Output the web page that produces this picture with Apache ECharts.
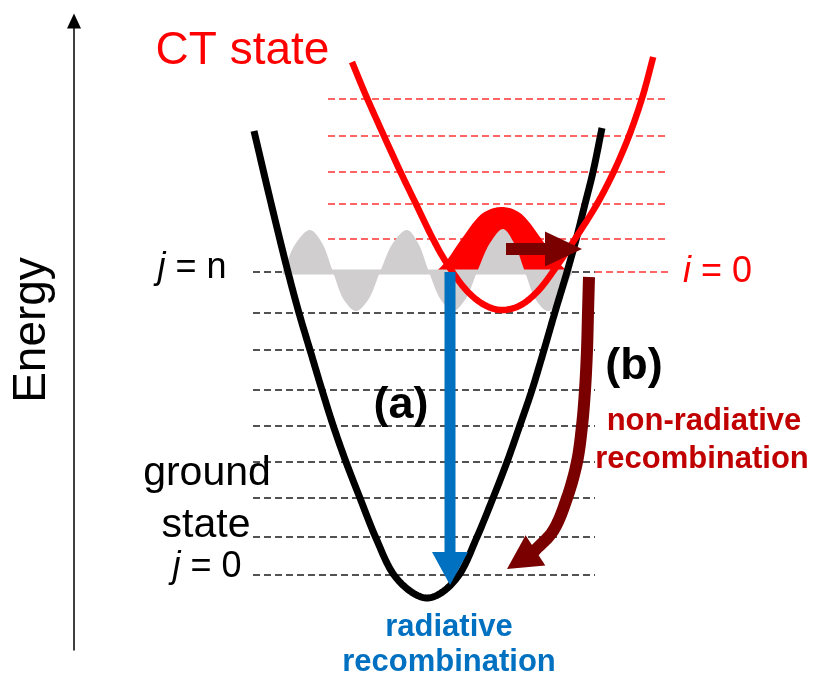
<!DOCTYPE html>
<html>
<head>
<meta charset="utf-8">
<script src="https://cdn.jsdelivr.net/npm/echarts@6/dist/echarts.min.js"></script>
<style>
  html, body { margin: 0; padding: 0; background: #ffffff; }
  #chart { width: 815px; height: 679px; }
</style>
</head>
<body>
<div id="chart"></div>
<script>
// Configuration coordinate q (horizontal) and energy E (vertical), arbitrary units.

// Vibrational levels of the ground state, j = 0 ... j = n
const groundLevels = [75, 113, 152, 188, 224, 260, 300, 337, 378];
const groundLevelSpan = [179, 521];

// Vibrational levels of the CT state above i = 0
const ctLevels = [411, 446, 478, 514, 551];
const ctLevelSpan = [254, 594];
const ctZeroLevel = 378;
const ctZeroSpan = [521, 594];

// Potential energy curves
const groundPotential = [
  [180, 519], [197, 447], [214, 378], [225, 337], [236, 300], [248, 260],
  [259, 225], [272, 188], [286, 152], [301.5, 113], [320, 75], [339, 57],
  [353, 52], [367, 57], [385, 75], [403, 113], [419, 152], [433, 188],
  [446, 225], [458, 260], [470, 300], [481, 338], [493, 378], [502.5, 412],
  [511, 446], [519, 478], [528, 522]
];
const ctPotential = [
  [278, 588], [293, 552], [310, 514], [326.5, 478], [342, 446], [359, 411],
  [372, 388], [394, 358], [412.5, 344], [428, 340], [445, 344], [463, 358],
  [485, 387], [501, 411], [523, 446], [539.6, 478], [555, 514], [568.7, 554],
  [579.2, 593]
];

// Vibrational wavefunctions at the crossing energy
const waveBaseline = 378;
const groundWave = [
  [209, 378], [222, 407], [236, 420], [248, 407], [259, 378], [270, 350],
  [282, 339], [294, 350], [306, 378], [319, 407], [333, 420], [344, 407],
  [355, 378], [367, 350], [379, 339], [391, 350], [403, 378], [416, 407],
  [429, 421], [440, 407], [451, 378], [462, 350], [474, 339], [486, 350],
  [498, 378]
];
const ctWave = [
  [363, 379], [373, 390], [389, 413], [409, 437], [428, 443], [446, 437],
  [466, 413], [482, 390], [493, 379]
];

// Transitions
const radiativeArrow = [[376, 378], [376, 65]];
const crossingArrow = [[432, 401], [508, 401]];
const nonRadiativeArrow = [
  [515, 373], [514, 337], [513, 300], [511, 260], [508, 224], [503, 188],
  [493, 152], [479, 119], [462, 100], [433, 81]
];

// Text shown on the diagram
const labelTexts = [
  'CT state', '{it|j}{rm| = n}', '{it|i}{rm| = 0}', '(a)', '(b)',
  'non-radiative', 'recombination', 'ground', 'state', '{it|j}{rm| = 0}',
  'radiative', 'recombination', 'Energy'
];

const FONT = '"Liberation Sans", Arial, Helvetica, sans-serif';
const BLACK = '#000000';
const RED = '#ff0000';
const GREY = '#d0cecf';
const BLUE = '#0070c0';
const MAROON = '#7a0000';
const DARK_RED = '#c00000';

// Centripetal Catmull-Rom through pixel points, for smooth strokes and fills
function spline(pts, steps) {
  const n = pts.length;
  if (n < 3) return pts.slice();
  const out = [];
  const knot = (a, b) => Math.max(Math.sqrt(Math.hypot(b[0] - a[0], b[1] - a[1])), 1e-4);
  const mix = (a, b, ta, tb, t) => {
    const w = (t - ta) / (tb - ta);
    return [a[0] + (b[0] - a[0]) * w, a[1] + (b[1] - a[1]) * w];
  };
  for (let i = 0; i < n - 1; i++) {
    const p1 = pts[i], p2 = pts[i + 1];
    const p0 = i > 0 ? pts[i - 1] : [2 * p1[0] - p2[0], 2 * p1[1] - p2[1]];
    const p3 = i < n - 2 ? pts[i + 2] : [2 * p2[0] - p1[0], 2 * p2[1] - p1[1]];
    const t0 = 0, t1 = t0 + knot(p0, p1), t2 = t1 + knot(p1, p2), t3 = t2 + knot(p2, p3);
    for (let s = 0; s < steps; s++) {
      const t = t1 + (t2 - t1) * s / steps;
      const a1 = mix(p0, p1, t0, t1, t), a2 = mix(p1, p2, t1, t2, t), a3 = mix(p2, p3, t2, t3, t);
      const b1 = mix(a1, a2, t0, t2, t), b2 = mix(a2, a3, t1, t3, t);
      out.push(mix(b1, b2, t1, t2, t));
    }
  }
  out.push(pts[n - 1]);
  return out;
}

// Level lines: [qStart, qEnd, E, kind]
const levelData = [];
ctLevels.forEach(e => levelData.push([ctLevelSpan[0], ctLevelSpan[1], e, 'ct']));
levelData.push([ctZeroSpan[0], ctZeroSpan[1], ctZeroLevel, 'ct']);
groundLevels.forEach(e => levelData.push([groundLevelSpan[0], groundLevelSpan[1], e, 'ground']));

// Arrow drawing settings
const arrowDefs = [
  { path: radiativeArrow, color: BLUE, shaft: 11, headLen: 33, headW: 36 },
  { path: crossingArrow, color: MAROON, shaft: 12, headLen: 37, headW: 35 },
  { path: nonRadiativeArrow, color: MAROON, shaft: 12, headLen: 34, headW: 36 }
];

// Label anchors (q, E) and styles
const labelDefs = [
  { at: [168.5, 599], size: 46, color: RED },
  { at: [118, 382], size: 36, color: BLACK },
  { at: [643.5, 378], size: 36, color: RED },
  { at: [327, 244], size: 45, color: BLACK, weight: 'bold' },
  { at: [560, 283], size: 45, color: BLACK, weight: 'bold' },
  { at: [630, 229], size: 31, color: DARK_RED, weight: 'bold' },
  { at: [628, 191], size: 31, color: DARK_RED, weight: 'bold' },
  { at: [133, 176], size: 41, color: BLACK },
  { at: [132, 124], size: 41, color: BLACK },
  { at: [133, 83], size: 36, color: BLACK },
  { at: [375, 22.5], size: 31, color: BLUE, weight: 'bold' },
  { at: [375, -12], size: 31, color: BLUE, weight: 'bold' },
  { at: [-42, 320], size: 46, color: BLACK, rotate: Math.PI / 2 }
];

function renderLevel(params, api) {
  const p1 = api.coord([api.value(0), api.value(2)]);
  const p2 = api.coord([api.value(1), api.value(2)]);
  const isCt = levelData[params.dataIndex][3] === 'ct';
  return {
    type: 'line',
    shape: { x1: p1[0], y1: p1[1], x2: p2[0], y2: p2[1] },
    style: { stroke: isCt ? '#ff3333' : '#1a1a1a', lineWidth: 1.5, lineDash: [7, 4] }
  };
}

// Filled wavefunction between the curve and its baseline
function waveSeries(name, points, color, z) {
  return {
    name: name,
    type: 'custom',
    z: z,
    clip: false,
    silent: true,
    data: [points[0]],
    renderItem: function (params, api) {
      const px = spline(points.map(p => api.coord(p)), 12);
      const b0 = api.coord([points[0][0], waveBaseline]);
      const b1 = api.coord([points[points.length - 1][0], waveBaseline]);
      return {
        type: 'polygon',
        shape: { points: [b0].concat(px, [b1]) },
        style: { fill: color }
      };
    }
  };
}

// Smooth stroked curve
function curveSeries(name, points, color, width, z) {
  return {
    name: name,
    type: 'custom',
    z: z,
    clip: false,
    silent: true,
    data: [points[0]],
    renderItem: function (params, api) {
      const px = spline(points.map(p => api.coord(p)), 12);
      return {
        type: 'polyline',
        shape: { points: px },
        style: { stroke: color, lineWidth: width, fill: null, lineCap: 'butt', lineJoin: 'round' }
      };
    }
  };
}

function renderArrow(params, api) {
  const def = arrowDefs[params.dataIndex];
  const pts = def.path.map(p => api.coord(p));
  const n = pts.length;
  const tip = pts[n - 1];
  const prev = pts[n - 2];
  let dx = tip[0] - prev[0], dy = tip[1] - prev[1];
  const len = Math.hypot(dx, dy);
  dx /= len; dy /= len;
  const base = [tip[0] - dx * def.headLen, tip[1] - dy * def.headLen];
  let shaft = pts.slice(0, n - 1);
  const last = shaft[shaft.length - 1];
  if (shaft.length > 1 && Math.hypot(last[0] - base[0], last[1] - base[1]) < 6) {
    shaft = shaft.slice(0, shaft.length - 1);
  }
  shaft.push([base[0] + dx * 2, base[1] + dy * 2]);
  const nx = -dy, ny = dx, hw = def.headW / 2;
  return {
    type: 'group',
    children: [
      {
        type: 'polyline',
        shape: { points: spline(shaft, 10) },
        style: { stroke: def.color, lineWidth: def.shaft, fill: null, lineCap: 'butt', lineJoin: 'round' }
      },
      {
        type: 'polygon',
        shape: { points: [tip, [base[0] + nx * hw, base[1] + ny * hw], [base[0] - nx * hw, base[1] - ny * hw]] },
        style: { fill: def.color }
      }
    ]
  };
}

function renderLabel(params, api) {
  const def = labelDefs[params.dataIndex];
  const p = api.coord(def.at);
  return {
    type: 'text',
    x: p[0],
    y: p[1],
    rotation: def.rotate || 0,
    style: {
      text: labelTexts[params.dataIndex],
      fill: def.color,
      fontSize: def.size,
      fontFamily: FONT,
      fontWeight: def.weight || 'normal',
      align: 'center',
      verticalAlign: 'middle',
      rich: {
        it: { fontSize: def.size, fontFamily: FONT, fontStyle: 'italic', fill: def.color },
        rm: { fontSize: def.size, fontFamily: FONT, fill: def.color }
      }
    }
  };
}

const chart = echarts.init(document.getElementById('chart'), null, { renderer: 'canvas' });

chart.setOption({
  animation: false,
  backgroundColor: '#ffffff',
  grid: { left: 74, right: 0, top: 21, bottom: 29, containLabel: false, outerBoundsMode: 'none' },
  xAxis: { type: 'value', min: 0, max: 741, show: false },
  yAxis: {
    type: 'value',
    min: 0,
    max: 629,
    axisLine: {
      show: true,
      onZero: false,
      symbol: ['none', 'triangle'],
      symbolSize: [14, 15],
      lineStyle: { color: BLACK, width: 1.5 }
    },
    axisTick: { show: false },
    axisLabel: { show: false },
    splitLine: { show: false }
  },
  series: [
    {
      name: 'levels',
      type: 'custom',
      z: 1,
      renderItem: renderLevel,
      encode: { x: [0, 1], y: 2 },
      data: levelData.map(d => [d[0], d[1], d[2]]),
      clip: false,
      silent: true
    },
    waveSeries('CT wavefunction', ctWave, RED, 2),
    waveSeries('ground wavefunction', groundWave, GREY, 3),
    {
      name: 'wave baseline',
      type: 'custom',
      z: 3,
      clip: false,
      silent: true,
      data: [groundWave[0]],
      renderItem: function (params, api) {
        const a = api.coord([groundWave[0][0], waveBaseline]);
        const b = api.coord([groundWave[groundWave.length - 1][0], waveBaseline]);
        return {
          type: 'line',
          shape: { x1: a[0], y1: a[1], x2: b[0], y2: b[1] },
          style: { stroke: GREY, lineWidth: 5 }
        };
      }
    },
    curveSeries('ground state', groundPotential, BLACK, 7, 4),
    curveSeries('CT state', ctPotential, RED, 6.5, 5),
    {
      name: 'transitions',
      type: 'custom',
      z: 6,
      renderItem: renderArrow,
      data: arrowDefs.map(a => a.path[0]),
      clip: false,
      silent: true
    },
    {
      name: 'labels',
      type: 'custom',
      z: 7,
      renderItem: renderLabel,
      data: labelDefs.map(l => l.at),
      clip: false,
      silent: true
    }
  ]
});
</script>
</body>
</html>
